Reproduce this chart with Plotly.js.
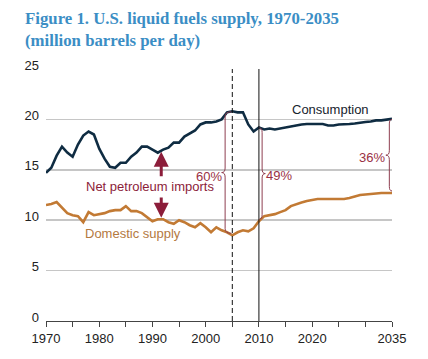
<!DOCTYPE html>
<html>
<head>
<meta charset="utf-8">
<script src="https://cdn.plot.ly/plotly-3.0.1.min.js"></script>
<style>
html,body{margin:0;padding:0;background:#fff;}
#chart{width:428px;height:359px;}
</style>
</head>
<body>
<div id="chart"></div>
<script>
// ---- data ----
const years = [];
for (let y = 1970; y <= 2035; y++) years.push(y);

const consumption = [
  14.7, 15.2, 16.4, 17.3, 16.7, 16.3, 17.5, 18.4, 18.8, 18.5,
  17.1, 16.1, 15.3, 15.2, 15.7, 15.7, 16.3, 16.7, 17.3, 17.3,
  17.0, 16.7, 17.0, 17.2, 17.7, 17.7, 18.3, 18.6, 18.9, 19.5,
  19.7, 19.7, 19.8, 20.0, 20.7, 20.8, 20.7, 20.7, 19.5, 18.8,
  19.2, 19.0, 19.1, 19.0, 19.1, 19.2, 19.35, 19.45, 19.5, 19.55,
  19.55, 19.55, 19.55, 19.4, 19.4, 19.5, 19.5, 19.55, 19.6, 19.7,
  19.75, 19.8, 19.9, 19.9, 19.95, 20.05
];

const domestic = [
  11.5, 11.6, 11.8, 11.3, 10.7, 10.5, 10.4, 9.8, 10.8, 10.5,
  10.6, 10.7, 10.9, 11.0, 11.0, 11.4, 10.9, 10.9, 10.7, 10.3,
  9.9, 10.1, 10.1, 9.8, 9.65, 10.0, 9.8, 9.5, 9.3, 9.7,
  9.3, 8.8, 9.3, 9.0, 8.8, 8.5, 8.8, 9.0, 8.9, 9.2,
  9.9, 10.4, 10.5, 10.6, 10.8, 11.0, 11.4, 11.6, 11.75, 11.9,
  12.0, 12.1, 12.1, 12.1, 12.1, 12.1, 12.1, 12.2, 12.35, 12.5,
  12.55, 12.6, 12.7, 12.7, 12.7, 12.7
];

const xTickVals = [1970,1975,1980,1985,1990,1995,2000,2005,2010,2015,2020,2025,2030,2035];
const xTickText = ['1970','','1980','','1990','','2000','','2010','','2020','','','2035'];
const yTickVals = [0,5,10,15,20,25];

const dividerYears = [2005, 2010];           // history end / projections start
const shareYears = [2005, 2010, 2035];
const shareLabels = ['60%', '49%', '36%'];
const importsArrowYear = 1991.65;

// ---- helpers ----
function valAt(arr, yr) {
  const i = Math.floor(yr - 1970);
  const f = yr - 1970 - i;
  if (f === 0 || i >= arr.length - 1) return arr[i];
  return arr[i] + (arr[i + 1] - arr[i]) * f;
}

const RED = '#8c1d3a';
const BRACE = '#8e3e50';

function bracePath(x0, yT, yB, dir, d1, d2, r) {
  const xl = x0 + dir * d1, xc = x0 + dir * d2, ym = (yT + yB) / 2;
  return `M${x0},${yT} Q${xl},${yT} ${xl},${yT - r} L${xl},${ym + r} ` +
         `Q${xl},${ym} ${xc},${ym} Q${xl},${ym} ${xl},${ym - r} ` +
         `L${xl},${yB + r} Q${xl},${yB} ${x0},${yB}`;
}

const braceCfg = [
  {dir: -1, d1: 1.15, d2: 1.8, attach: -0.2, shift: 2, dy: -0.3},
  {dir: 1, d1: 0.5, d2: 1.1, attach: 0.1, shift: -1, dy: -0.15},
  {dir: -1, d1: 0.5, d2: 1.15, attach: 0, shift: 1, dy: -0.15}
];

const shapes = [];
dividerYears.forEach((yr, i) => {
  shapes.push({type: 'line', xref: 'x', yref: 'y', x0: yr, x1: yr, y0: 0, y1: 25,
    line: {color: '#111', width: 1, dash: i === 0 ? '5px,3px' : 'solid'}});
});

const annotations = [];
shareYears.forEach((yr, i) => {
  const c = braceCfg[i];
  const yT = valAt(consumption, yr), yB = valAt(domestic, yr);
  shapes.push({type: 'path', xref: 'x', yref: 'y',
    path: bracePath(yr + c.attach, yT - 0.05, yB + 0.2, c.dir, c.d1, c.d2, 0.45),
    line: {color: BRACE, width: 1}});
  annotations.push({xref: 'x', yref: 'y', x: yr + c.attach + c.dir * c.d2, y: (yT + yB) / 2 + c.dy,
    text: shareLabels[i], showarrow: false, xanchor: c.dir < 0 ? 'right' : 'left',
    xshift: c.shift, font: {family: 'Liberation Sans, Arial', size: 13, color: '#9a3044'}});
});

const cTip = valAt(consumption, importsArrowYear);
const dTip = valAt(domestic, importsArrowYear);
annotations.push({xref: 'x', yref: 'y', axref: 'x', ayref: 'y',
  x: importsArrowYear, y: cTip - 0.1, ax: importsArrowYear, ay: 14.2,
  text: '', showarrow: true, arrowhead: 2, arrowsize: 1, arrowwidth: 3, arrowcolor: RED, standoff: 0});
annotations.push({xref: 'x', yref: 'y', axref: 'x', ayref: 'y',
  x: importsArrowYear, y: dTip + 0.15, ax: importsArrowYear, ay: 12.4,
  text: '', showarrow: true, arrowhead: 2, arrowsize: 1, arrowwidth: 3, arrowcolor: RED, standoff: 0});

const sans = 'Liberation Sans, Arial, sans-serif';
function label(text, x, y, color) {
  annotations.push({xref: 'x', yref: 'y', x: x, y: y, text: text, showarrow: false,
    font: {family: sans, size: 13, color: color}});
}
label('History', 1989.2, 25.8, '#1a1a1a');
label('2005', 2003.8, 25.8, '#1a1a1a');
label('2010', 2011.4, 25.8, '#1a1a1a');
label('Projections', 2022.5, 25.8, '#1a1a1a');
label('Consumption', 2023.5, 21.0, '#16232d');
label('Net petroleum imports', 1989.55, 13.3, RED);
label('Domestic supply', 1986.3, 8.68, '#b4793f');

annotations.push({
  xref: 'paper', yref: 'paper', x: (23 - 46) / 346, y: 1 + (69 - 7) / 252,
  xanchor: 'left', yanchor: 'top', align: 'left', showarrow: false,
  text: '<b>Figure 1. U.S. liquid fuels supply, 1970-2035<br>(million barrels per day)</b>',
  font: {family: 'Liberation Serif, Times New Roman, serif', size: 16.8, color: '#3b8ec5'}
});

const traces = [
  {x: years, y: consumption, type: 'scatter', mode: 'lines',
   line: {color: '#0f2c42', width: 2.6}, hoverinfo: 'skip'},
  {x: years, y: domestic, type: 'scatter', mode: 'lines',
   line: {color: '#c27a34', width: 2.6}, hoverinfo: 'skip'}
];

const layout = {
  width: 428, height: 359,
  margin: {l: 46, r: 36, t: 69, b: 38},
  paper_bgcolor: '#fff', plot_bgcolor: '#fff',
  showlegend: false,
  xaxis: {
    range: [1970, 2035], tickmode: 'array', tickvals: xTickVals, ticktext: xTickText,
    showgrid: false, zeroline: false, showline: true, linecolor: '#444', linewidth: 1,
    ticks: 'outside', ticklen: 5, tickcolor: '#444', tickwidth: 1,
    tickfont: {family: sans, size: 13, color: '#222'}, fixedrange: true
  },
  yaxis: {
    range: [0, 25], tickmode: 'array', tickvals: yTickVals,
    showgrid: true, gridcolor: '#c6c6c6', gridwidth: 1.5, zeroline: false, showline: false,
    ticks: '', ticklabelshift: -4, ticklabelstandoff: 6,
    tickfont: {family: sans, size: 13, color: '#222'}, fixedrange: true
  },
  shapes: shapes,
  annotations: annotations
};

Plotly.newPlot('chart', traces, layout, {displayModeBar: false, staticPlot: true});
</script>
</body>
</html>
